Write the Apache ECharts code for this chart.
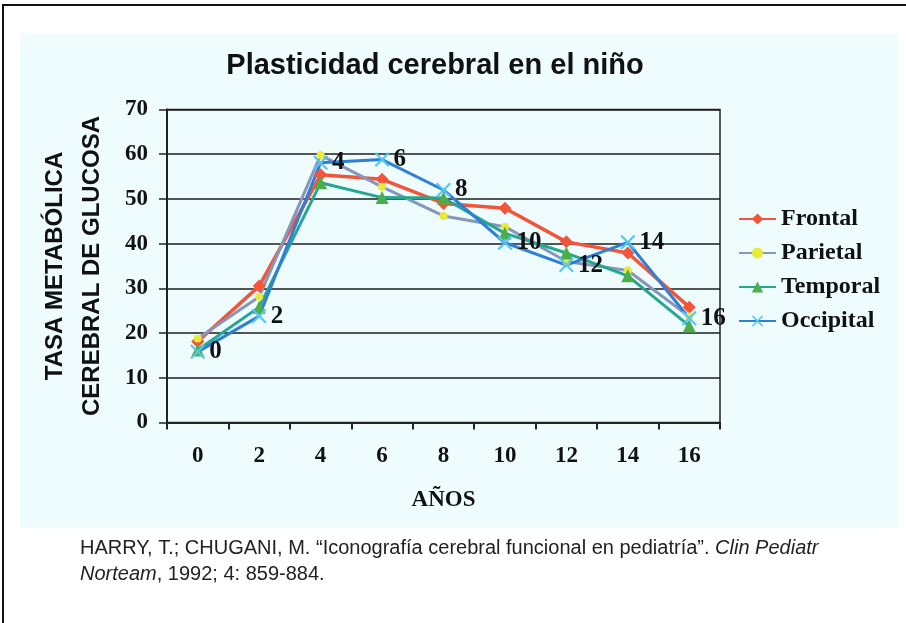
<!DOCTYPE html>
<html>
<head>
<meta charset="utf-8">
<title>Plasticidad cerebral en el niño</title>
<script src="https://cdn.jsdelivr.net/npm/echarts@6/dist/echarts.min.js"></script>
<style>
  html, body { margin: 0; padding: 0; background: #fff; }
  #chart { width: 906px; height: 623px; }
</style>
</head>
<body>
<div id="chart"></div>
<script>
// edades (años) en el eje x
var ages = ['0', '2', '4', '6', '8', '10', '12', '14', '16'];

// tasa metabólica cerebral de glucosa por región
var frontal = [18.1, 30.5, 55.4, 54.4, 49.0, 47.9, 40.4, 37.9, 25.8];
var parietal = [18.8, 28.1, 59.8, 52.7, 46.2, 43.8, 36.0, 34.0, 23.7];
var temporal = [16.2, 25.8, 53.6, 50.3, 50.2, 42.3, 37.9, 32.8, 21.6];
var occipital = [15.8, 23.8, 58.1, 58.8, 52.0, 40.2, 35.2, 40.3, 23.3];

var yTicks = [0, 10, 20, 30, 40, 50, 60, 70];

var serif = "'Liberation Serif', 'Times New Roman', serif";
var sans = "'Liberation Sans', Arial, sans-serif";
var crossPath = 'path://M0,1 L1,0 L5,4 L9,0 L10,1 L6,5 L10,9 L9,10 L5,6 L1,10 L0,9 L4,5 Z';

var chart = echarts.init(document.getElementById('chart'));

chart.setOption({
  animation: false,
  backgroundColor: '#fff',
  graphic: [
    { type: 'rect', z: -10, shape: { x: 20, y: 33, width: 878, height: 495 }, style: { fill: '#eefcfe' } },
    { type: 'line', z: -5, shape: { x1: 2, y1: 5, x2: 906, y2: 5 }, style: { stroke: '#111', lineWidth: 2 } },
    { type: 'line', z: -5, shape: { x1: 3, y1: 5, x2: 3, y2: 623 }, style: { stroke: '#111', lineWidth: 2 } },
    {
      type: 'text',
      left: 80,
      top: 535,
      style: {
        text: 'HARRY, T.; CHUGANI, M. “Iconografía cerebral funcional en pediatría”. {i|Clin Pediatr}\n{i|Norteam}, 1992; 4: 859-884.',
        fill: '#222',
        font: '20px ' + sans,
        lineHeight: 26,
        rich: {
          i: { fontStyle: 'italic', fontSize: 20, fontFamily: sans, fill: '#222', lineHeight: 26 }
        }
      }
    }
  ],
  title: {
    text: 'Plasticidad cerebral en el niño',
    left: 430,
    top: 46,
    textAlign: 'center',
    textStyle: { fontFamily: sans, fontSize: 29, fontWeight: 'bold', color: '#111' }
  },
  legend: {
    orient: 'vertical',
    left: 738,
    top: 207,
    padding: 0,
    itemWidth: 37,
    itemHeight: 14,
    itemGap: 10,
    textStyle: { fontFamily: serif, fontSize: 24, fontWeight: 'bold', color: '#111', lineHeight: 23 },
    data: ['Frontal', 'Parietal', 'Temporal', 'Occipital']
  },
  grid: {
    left: 167,
    right: 186,
    top: 109.5,
    bottom: 200.5,
    show: true,
    backgroundColor: 'transparent',
    borderColor: '#222',
    borderWidth: 1.5
  },
  xAxis: {
    type: 'category',
    data: ages,
    boundaryGap: true,
    name: 'AÑOS',
    nameLocation: 'middle',
    nameGap: 66,
    nameTextStyle: { fontFamily: serif, fontSize: 23, fontWeight: 'bold', color: '#111' },
    axisLine: { lineStyle: { color: '#222', width: 2 } },
    axisTick: { show: true, length: 7, lineStyle: { color: '#222', width: 2 } },
    axisLabel: { margin: 22, fontFamily: serif, fontSize: 23, fontWeight: 'bold', color: '#111' }
  },
  yAxis: {
    type: 'value',
    min: 0,
    max: 70,
    interval: 10,
    name: 'TASA METABÓLICA\nCEREBRAL DE GLUCOSA',
    nameLocation: 'middle',
    nameRotate: 90,
    nameGap: 56,
    nameTextStyle: { fontFamily: sans, fontSize: 24, fontWeight: 'bold', color: '#111', lineHeight: 37 },
    axisLine: { show: true, lineStyle: { color: '#222', width: 2 } },
    axisTick: { show: true, length: 8, lineStyle: { color: '#222', width: 1.5 } },
    axisLabel: {
      margin: 19,
      fontFamily: serif,
      fontSize: 23,
      fontWeight: 'bold',
      color: '#111',
      formatter: function (v) { return yTicks.indexOf(v) >= 0 ? String(v) : ''; }
    },
    splitLine: { show: true, lineStyle: { color: '#1e1e1e', width: 1.5 } }
  },
  series: [
    {
      name: 'Frontal',
      type: 'line',
      data: frontal,
      color: '#f2553a',
      symbol: 'diamond',
      symbolSize: 13,
      lineStyle: { width: 3.5, color: '#f2553a' },
      itemStyle: { color: '#f2553a' }
    },
    {
      name: 'Parietal',
      type: 'line',
      data: parietal,
      color: '#8796bb',
      symbol: 'circle',
      symbolSize: 8,
      lineStyle: { width: 3, color: '#8796bb' },
      itemStyle: { color: '#e9ea3e' }
    },
    {
      name: 'Temporal',
      type: 'line',
      data: temporal,
      color: '#25a68e',
      symbol: 'triangle',
      symbolSize: 13,
      lineStyle: { width: 3, color: '#25a68e' },
      itemStyle: { color: '#4cae4a' }
    },
    {
      name: 'Occipital',
      type: 'line',
      data: occipital,
      color: '#2f7fd6',
      symbol: crossPath,
      symbolSize: 15,
      lineStyle: { width: 3, color: '#2f7fd6' },
      itemStyle: { color: '#55c6f2' },
      label: {
        show: true,
        position: 'right',
        distance: 4,
        formatter: '{b}',
        fontFamily: serif,
        fontSize: 25,
        fontWeight: 'bold',
        color: '#111'
      }
    }
  ]
});
</script>
</body>
</html>
